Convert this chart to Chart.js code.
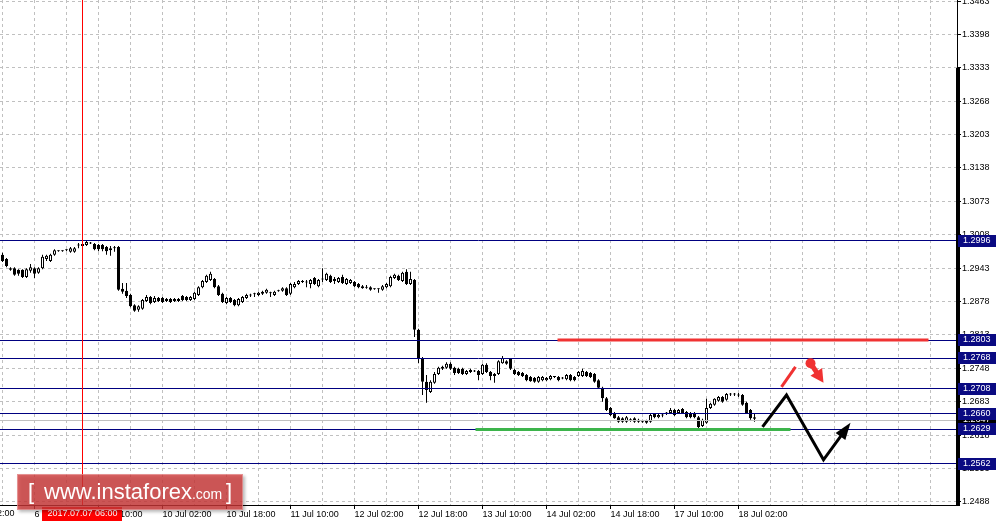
<!DOCTYPE html>
<html lang="en">
<head>
<meta charset="UTF-8">
<title>GBPUSD H1</title>
<script src="https://cdn.jsdelivr.net/npm/chart.js@4.4.0/dist/chart.umd.min.js"></script>
<style>
  html, body { margin: 0; padding: 0; background: #fff; }
  #wrap { width: 996px; height: 525px; }
</style>
</head>
<body>
<div id="wrap"><canvas id="chart" width="996" height="525"></canvas></div>
<script>
  // H1 candles, bar 0 = 6 Jul 10:00
  const opens = [
    1.2969, 1.2961, 1.2943, 1.2943, 1.2940, 1.2940, 1.2926, 1.2938, 1.2943, 1.2934,
    1.2943, 1.2961, 1.2957, 1.2969, 1.2976, 1.2976, 1.2978, 1.2975, 1.2975, 1.2988,
    1.2986, 1.2988, 1.2992, 1.2990, 1.2988, 1.2988, 1.2984, 1.2982, 1.2982, 1.2984,
    1.2903, 1.2899, 1.2891, 1.2871, 1.2862, 1.2864, 1.2879, 1.2887, 1.2877, 1.2885,
    1.2885, 1.2883, 1.2883, 1.2883, 1.2879, 1.2889, 1.2887, 1.2881, 1.2883, 1.2891,
    1.2906, 1.2916, 1.2920, 1.2922, 1.2908, 1.2893, 1.2875, 1.2885, 1.2881, 1.2871,
    1.2877, 1.2885, 1.2891, 1.2893, 1.2891, 1.2893, 1.2895, 1.2895, 1.2891, 1.2899,
    1.2899, 1.2904, 1.2893, 1.2906, 1.2912, 1.2916, 1.2916, 1.2912, 1.2924, 1.2908,
    1.2922, 1.2920, 1.2928, 1.2922, 1.2916, 1.2926, 1.2912, 1.2914, 1.2916, 1.2912,
    1.2908, 1.2906, 1.2906, 1.2903, 1.2903, 1.2901, 1.2906, 1.2908, 1.2924, 1.2928,
    1.2918, 1.2936, 1.2912, 1.2920, 1.2823, 1.2768, 1.2722, 1.2702, 1.2720, 1.2737,
    1.2751, 1.2749, 1.2757, 1.2749, 1.2747, 1.2747, 1.2737, 1.2741, 1.2743, 1.2743,
    1.2737, 1.2755, 1.2741, 1.2733, 1.2737, 1.2758, 1.2762, 1.2766, 1.2745, 1.2741,
    1.2739, 1.2735, 1.2731, 1.2729, 1.2722, 1.2725, 1.2725, 1.2727, 1.2731, 1.2731,
    1.2729, 1.2727, 1.2735, 1.2731, 1.2733, 1.2733, 1.2741, 1.2739, 1.2737, 1.2725,
    1.2710, 1.2690, 1.2671, 1.2661, 1.2653, 1.2651, 1.2644, 1.2648, 1.2651, 1.2648,
    1.2644, 1.2646, 1.2644, 1.2659, 1.2653, 1.2657, 1.2661, 1.2661, 1.2667, 1.2661,
    1.2669, 1.2663, 1.2661, 1.2661, 1.2653, 1.2636, 1.2642, 1.2671, 1.2677, 1.2685,
    1.2692, 1.2687, 1.2698, 1.2698, 1.2696, 1.2696, 1.2681, 1.2667, 1.2653
  ];
  const highs = [
    1.2973, 1.2963, 1.2945, 1.2945, 1.2941, 1.2941, 1.2943, 1.2951, 1.2945, 1.2945,
    1.2969, 1.2969, 1.2971, 1.2980, 1.2978, 1.2978, 1.2980, 1.2984, 1.2984, 1.2992,
    1.2992, 1.2996, 1.2994, 1.2992, 1.2990, 1.2990, 1.2986, 1.2986, 1.2986, 1.2986,
    1.2914, 1.2914, 1.2893, 1.2873, 1.2871, 1.2883, 1.2891, 1.2889, 1.2889, 1.2887,
    1.2887, 1.2885, 1.2885, 1.2885, 1.2885, 1.2891, 1.2889, 1.2889, 1.2897, 1.2908,
    1.2920, 1.2930, 1.2936, 1.2924, 1.2910, 1.2895, 1.2887, 1.2887, 1.2883, 1.2885,
    1.2889, 1.2893, 1.2893, 1.2895, 1.2897, 1.2899, 1.2903, 1.2897, 1.2899, 1.2901,
    1.2906, 1.2906, 1.2914, 1.2916, 1.2920, 1.2920, 1.2920, 1.2922, 1.2926, 1.2922,
    1.2943, 1.2934, 1.2930, 1.2926, 1.2926, 1.2930, 1.2924, 1.2922, 1.2918, 1.2914,
    1.2910, 1.2910, 1.2908, 1.2904, 1.2904, 1.2910, 1.2914, 1.2928, 1.2932, 1.2930,
    1.2936, 1.2941, 1.2936, 1.2922, 1.2825, 1.2770, 1.2735, 1.2725, 1.2741, 1.2751,
    1.2753, 1.2760, 1.2760, 1.2751, 1.2749, 1.2749, 1.2745, 1.2747, 1.2745, 1.2745,
    1.2757, 1.2758, 1.2743, 1.2739, 1.2764, 1.2772, 1.2764, 1.2768, 1.2747, 1.2743,
    1.2741, 1.2737, 1.2733, 1.2731, 1.2733, 1.2733, 1.2731, 1.2735, 1.2733, 1.2733,
    1.2731, 1.2737, 1.2737, 1.2733, 1.2743, 1.2747, 1.2743, 1.2741, 1.2739, 1.2727,
    1.2712, 1.2692, 1.2673, 1.2663, 1.2655, 1.2653, 1.2655, 1.2651, 1.2653, 1.2650,
    1.2648, 1.2648, 1.2659, 1.2661, 1.2659, 1.2659, 1.2663, 1.2671, 1.2669, 1.2669,
    1.2671, 1.2665, 1.2663, 1.2663, 1.2655, 1.2650, 1.2689, 1.2681, 1.2690, 1.2694,
    1.2694, 1.2700, 1.2700, 1.2700, 1.2700, 1.2698, 1.2683, 1.2669, 1.2659
  ];
  const lows = [
    1.2955, 1.2945, 1.2938, 1.2928, 1.2928, 1.2924, 1.2924, 1.2934, 1.2924, 1.2932,
    1.2941, 1.2957, 1.2955, 1.2967, 1.2975, 1.2975, 1.2976, 1.2973, 1.2973, 1.2982,
    1.2984, 1.2986, 1.2990, 1.2978, 1.2976, 1.2976, 1.2969, 1.2967, 1.2975, 1.2899,
    1.2893, 1.2885, 1.2867, 1.2858, 1.2858, 1.2862, 1.2877, 1.2873, 1.2875, 1.2877,
    1.2875, 1.2877, 1.2875, 1.2877, 1.2877, 1.2879, 1.2879, 1.2879, 1.2881, 1.2889,
    1.2904, 1.2914, 1.2918, 1.2904, 1.2889, 1.2875, 1.2873, 1.2875, 1.2869, 1.2869,
    1.2875, 1.2883, 1.2887, 1.2887, 1.2889, 1.2891, 1.2893, 1.2887, 1.2889, 1.2897,
    1.2897, 1.2889, 1.2891, 1.2904, 1.2910, 1.2914, 1.2906, 1.2904, 1.2910, 1.2906,
    1.2916, 1.2918, 1.2914, 1.2912, 1.2914, 1.2912, 1.2910, 1.2912, 1.2906, 1.2904,
    1.2903, 1.2903, 1.2899, 1.2901, 1.2895, 1.2899, 1.2904, 1.2906, 1.2922, 1.2918,
    1.2916, 1.2910, 1.2910, 1.2809, 1.2758, 1.2696, 1.2681, 1.2700, 1.2718, 1.2735,
    1.2745, 1.2747, 1.2745, 1.2735, 1.2737, 1.2735, 1.2735, 1.2739, 1.2741, 1.2725,
    1.2735, 1.2739, 1.2725, 1.2720, 1.2735, 1.2757, 1.2755, 1.2745, 1.2735, 1.2733,
    1.2731, 1.2723, 1.2722, 1.2720, 1.2720, 1.2723, 1.2723, 1.2725, 1.2729, 1.2723,
    1.2727, 1.2725, 1.2723, 1.2723, 1.2731, 1.2731, 1.2731, 1.2729, 1.2720, 1.2708,
    1.2683, 1.2665, 1.2655, 1.2650, 1.2642, 1.2642, 1.2642, 1.2644, 1.2642, 1.2642,
    1.2642, 1.2640, 1.2642, 1.2651, 1.2651, 1.2653, 1.2657, 1.2659, 1.2655, 1.2659,
    1.2659, 1.2651, 1.2651, 1.2651, 1.2630, 1.2634, 1.2640, 1.2669, 1.2675, 1.2683,
    1.2681, 1.2685, 1.2694, 1.2694, 1.2692, 1.2675, 1.2659, 1.2648, 1.2644
  ];
  const closes = [
    1.2957, 1.2947, 1.2940, 1.2930, 1.2932, 1.2926, 1.2941, 1.2945, 1.2932, 1.2943,
    1.2965, 1.2967, 1.2969, 1.2978, 1.2976, 1.2977, 1.2979, 1.2982, 1.2982, 1.2987,
    1.2990, 1.2994, 1.2991, 1.2980, 1.2980, 1.2980, 1.2976, 1.2978, 1.2983, 1.2901,
    1.2897, 1.2889, 1.2869, 1.2860, 1.2869, 1.2881, 1.2887, 1.2875, 1.2885, 1.2879,
    1.2877, 1.2879, 1.2877, 1.2879, 1.2883, 1.2881, 1.2881, 1.2887, 1.2895, 1.2906,
    1.2918, 1.2928, 1.2932, 1.2906, 1.2891, 1.2877, 1.2885, 1.2877, 1.2871, 1.2883,
    1.2887, 1.2891, 1.2890, 1.2892, 1.2895, 1.2897, 1.2901, 1.2894, 1.2897, 1.2898,
    1.2904, 1.2891, 1.2912, 1.2912, 1.2918, 1.2917, 1.2915, 1.2920, 1.2912, 1.2920,
    1.2921, 1.2932, 1.2916, 1.2918, 1.2924, 1.2914, 1.2922, 1.2920, 1.2908, 1.2906,
    1.2904, 1.2905, 1.2901, 1.2902, 1.2902, 1.2908, 1.2912, 1.2926, 1.2930, 1.2920,
    1.2934, 1.2912, 1.2922, 1.2823, 1.2768, 1.2722, 1.2706, 1.2722, 1.2737, 1.2749,
    1.2747, 1.2757, 1.2747, 1.2739, 1.2739, 1.2737, 1.2743, 1.2745, 1.2742, 1.2735,
    1.2755, 1.2741, 1.2733, 1.2737, 1.2762, 1.2768, 1.2757, 1.2747, 1.2737, 1.2735,
    1.2733, 1.2725, 1.2723, 1.2722, 1.2731, 1.2731, 1.2729, 1.2733, 1.2732, 1.2725,
    1.2728, 1.2735, 1.2725, 1.2725, 1.2741, 1.2743, 1.2733, 1.2731, 1.2722, 1.2710,
    1.2690, 1.2667, 1.2657, 1.2651, 1.2644, 1.2644, 1.2653, 1.2647, 1.2644, 1.2644,
    1.2643, 1.2642, 1.2657, 1.2653, 1.2657, 1.2656, 1.2660, 1.2667, 1.2657, 1.2667,
    1.2661, 1.2653, 1.2653, 1.2653, 1.2634, 1.2648, 1.2671, 1.2679, 1.2689, 1.2692,
    1.2683, 1.2698, 1.2697, 1.2697, 1.2695, 1.2677, 1.2661, 1.2651, 1.2650
  ];

  // time axis labels (bar index -> text)
  const labelBars = [-8, 8, 24, 40, 56, 72, 88, 104, 120, 136, 152, 168, 184];
  const labelTexts = ['6 Jul 02:00', '6 Jul 18:00', '7 Jul 10:00', '10 Jul 02:00', '10 Jul 18:00',
    '11 Jul 10:00', '12 Jul 02:00', '12 Jul 18:00', '13 Jul 10:00', '14 Jul 02:00',
    '14 Jul 18:00', '17 Jul 10:00', '18 Jul 02:00'];
  const priceTicks = [1.2488, 1.2553, 1.2618, 1.2683, 1.2748, 1.2813, 1.2878, 1.2943,
    1.3008, 1.3073, 1.3138, 1.3203, 1.3268, 1.3333, 1.3398, 1.3463];

  // horizontal levels and current price
  const levels = [1.2996, 1.2803, 1.2768, 1.2708, 1.2660, 1.2629, 1.2562];
  const bidPrice = 1.2647;
  const markerBar = 20;
  const markerText = '2017.07.07 06:00';

  // hand drawn marks (bar index, price)
  const redLevelBars = [138.75, 231.5];
  const redLevelPrice = 1.2803;
  const greenLevelBars = [118.25, 197];
  const greenLevelPrice = 1.2629;
  const zigzagBars = [190, 196, 205.25, 212];
  const zigzagPrices = [1.2634, 1.2696, 1.2570, 1.2642];
  const redUpBars = [194.75, 198.25];
  const redUpPrices = [1.2712, 1.2751];
  const redDownBars = [202, 205.25];
  const redDownPrices = [1.2758, 1.2720];

  const FONT = '"Liberation Sans", Arial, sans-serif';
  const gridBars = [];
  for (let b = 0; b <= 232; b += 8) gridBars.push(b);

  const bodies = opens.map((o, i) => ({ x: i, y: [o, closes[i]] }));
  const wicks = highs.map((h, i) => ({ x: i, y: [lows[i], h] }));

  const crisp = v => Math.floor(v) + 0.5;

  function arrowHead(ctx, x0, y0, x1, y1, len, half) {
    const d = Math.hypot(x1 - x0, y1 - y0);
    const ux = (x1 - x0) / d, uy = (y1 - y0) / d;
    const bx = x1 - ux * len, by = y1 - uy * len;
    ctx.beginPath();
    ctx.moveTo(x1, y1);
    ctx.lineTo(bx - uy * half, by + ux * half);
    ctx.lineTo(bx + uy * half, by - ux * half);
    ctx.closePath();
    ctx.fill();
  }

  const overlay = {
    id: 'overlay',
    afterDatasetsDraw(chart) {
      const { ctx, chartArea: a, scales: { x, y } } = chart;
      ctx.save();
      ctx.lineWidth = 1;
      // bid line
      ctx.strokeStyle = '#c0c0c0';
      let yy = crisp(y.getPixelForValue(bidPrice));
      ctx.beginPath(); ctx.moveTo(a.left, yy); ctx.lineTo(a.right, yy); ctx.stroke();
      // levels
      ctx.strokeStyle = '#000080';
      levels.forEach(v => {
        const p = crisp(y.getPixelForValue(v));
        ctx.beginPath(); ctx.moveTo(a.left, p); ctx.lineTo(a.right, p); ctx.stroke();
      });
      // time marker
      ctx.strokeStyle = '#ff0000';
      const xm = crisp(x.getPixelForValue(markerBar));
      ctx.beginPath(); ctx.moveTo(xm, a.top); ctx.lineTo(xm, a.bottom); ctx.stroke();

      // red resistance segment
      ctx.lineWidth = 3;
      ctx.strokeStyle = '#f03232';
      yy = y.getPixelForValue(redLevelPrice);
      ctx.beginPath();
      ctx.moveTo(x.getPixelForValue(redLevelBars[0]), yy);
      ctx.lineTo(x.getPixelForValue(redLevelBars[1]), yy);
      ctx.stroke();
      // green support segment
      ctx.strokeStyle = '#3cb44b';
      yy = y.getPixelForValue(greenLevelPrice);
      ctx.beginPath();
      ctx.moveTo(x.getPixelForValue(greenLevelBars[0]), yy);
      ctx.lineTo(x.getPixelForValue(greenLevelBars[1]), yy);
      ctx.stroke();

      // black zigzag with arrow
      const zx = zigzagBars.map(b => x.getPixelForValue(b));
      const zy = zigzagPrices.map(p => y.getPixelForValue(p));
      ctx.strokeStyle = '#000';
      ctx.fillStyle = '#000';
      ctx.lineWidth = 3;
      ctx.lineJoin = 'miter';
      ctx.beginPath();
      ctx.moveTo(zx[0], zy[0]);
      for (let i = 1; i < zx.length - 1; i++) ctx.lineTo(zx[i], zy[i]);
      const n = zx.length - 1;
      // stop the shaft short of the arrow tip
      const sd = Math.hypot(zx[n] - zx[n - 1], zy[n] - zy[n - 1]);
      ctx.lineTo(zx[n] - (zx[n] - zx[n - 1]) / sd * 10, zy[n] - (zy[n] - zy[n - 1]) / sd * 10);
      ctx.stroke();
      arrowHead(ctx, zx[n - 1], zy[n - 1], zx[n], zy[n], 17, 6);

      // red small up stroke
      ctx.strokeStyle = '#f03232';
      ctx.fillStyle = '#f03232';
      ctx.lineWidth = 3;
      ctx.beginPath();
      ctx.moveTo(x.getPixelForValue(redUpBars[0]), y.getPixelForValue(redUpPrices[0]));
      ctx.lineTo(x.getPixelForValue(redUpBars[1]), y.getPixelForValue(redUpPrices[1]));
      ctx.stroke();
      // red down arrow with ball
      const r0x = x.getPixelForValue(redDownBars[0]), r0y = y.getPixelForValue(redDownPrices[0]);
      const r1x = x.getPixelForValue(redDownBars[1]), r1y = y.getPixelForValue(redDownPrices[1]);
      ctx.beginPath(); ctx.arc(r0x, r0y, 5, 0, Math.PI * 2); ctx.fill();
      ctx.lineWidth = 5;
      ctx.beginPath(); ctx.moveTo(r0x, r0y);
      ctx.lineTo(r0x + (r1x - r0x) * 0.5, r0y + (r1y - r0y) * 0.5);
      ctx.stroke();
      arrowHead(ctx, r0x, r0y, r1x, r1y, 13, 7);
      ctx.restore();
    },
    afterDraw(chart) {
      const { ctx, chartArea: a, scales: { x, y } } = chart;
      ctx.save();
      // thick part of price scale
      ctx.fillStyle = '#000';
      const yt = Math.round(y.getPixelForValue(1.3333));
      ctx.fillRect(a.right - 1, yt, 4, a.bottom - yt + 1);

      ctx.font = '9px ' + FONT;
      ctx.textBaseline = 'middle';
      ctx.textAlign = 'left';
      // bid label
      let p = Math.round(y.getPixelForValue(bidPrice));
      ctx.fillStyle = '#000';
      ctx.fillRect(a.right + 1, p - 6, 40, 12);
      ctx.fillStyle = '#fff';
      ctx.fillText(bidPrice.toFixed(4), a.right + 6, p);
      // level labels
      levels.forEach(v => {
        const q = Math.round(y.getPixelForValue(v));
        ctx.fillStyle = '#0a0a82';
        ctx.fillRect(a.right + 1, q - 6, 40, 12);
        ctx.fillStyle = '#fff';
        ctx.fillText(v.toFixed(4), a.right + 6, q);
      });

      // partial first time label (left of the chart)
      ctx.fillStyle = '#000';
      ctx.textBaseline = 'top';
      ctx.fillText(labelTexts[0], x.getPixelForValue(labelBars[0]), a.bottom + 4);

      // time marker label
      const xm = Math.floor(x.getPixelForValue(markerBar));
      ctx.fillStyle = '#ff0000';
      ctx.fillRect(xm - 40, a.bottom + 2, 80, 14);
      ctx.fillStyle = '#fff';
      ctx.textAlign = 'center';
      ctx.fillText(markerText, xm + 0.5, a.bottom + 4);

      // watermark
      ctx.shadowColor = 'rgba(0,0,0,0.35)';
      ctx.shadowOffsetX = 2; ctx.shadowOffsetY = 2; ctx.shadowBlur = 3;
      ctx.fillStyle = 'rgba(208,56,56,0.78)';
      ctx.fillRect(17, 474, 226, 36);
      ctx.shadowColor = 'transparent';
      ctx.strokeStyle = 'rgba(255,255,255,0.3)';
      ctx.lineWidth = 1;
      ctx.strokeRect(17.5, 474.5, 225, 35);
      ctx.fillStyle = '#fff';
      ctx.textAlign = 'left';
      ctx.textBaseline = 'alphabetic';
      ctx.font = '22px ' + FONT;
      ctx.fillText('[', 28, 499);
      ctx.fillText('www.instaforex', 44, 499);
      const w = ctx.measureText('www.instaforex').width;
      ctx.font = '14px ' + FONT;
      ctx.fillText('.com', 44 + w, 499);
      ctx.font = '22px ' + FONT;
      ctx.fillText(']', 226, 499);
      ctx.restore();
    }
  };

  Chart.defaults.font.family = FONT;
  Chart.defaults.font.size = 9;
  Chart.defaults.color = '#000';

  new Chart(document.getElementById('chart'), {
    type: 'bar',
    data: {
      datasets: [
        {
          label: 'body',
          data: bodies,
          order: 0,
          grouped: false,
          barThickness: 3,
          minBarLength: 1,
          inflateAmount: 0,
          borderSkipped: false,
          borderWidth: 1,
          borderColor: '#000',
          backgroundColor: c => closes[c.dataIndex] >= opens[c.dataIndex] ? '#fff' : '#000'
        },
        {
          label: 'wick',
          data: wicks,
          order: 1,
          grouped: false,
          barThickness: 1,
          minBarLength: 1,
          inflateAmount: 0,
          borderWidth: 0,
          backgroundColor: '#000'
        }
      ]
    },
    options: {
      responsive: false,
      animation: false,
      events: [],
      layout: { padding: 0 },
      plugins: { legend: { display: false }, tooltip: { enabled: false } },
      scales: {
        x: {
          type: 'linear',
          offset: false,
          min: -0.625,
          max: 238.625,
          afterBuildTicks: s => { s.ticks = gridBars.map(v => ({ value: v })); },
          afterFit: s => { s.height = 20; s.paddingLeft = 0; s.paddingRight = 0; },
          grid: {
            offset: false,
            color: '#c0c0c0',
            tickLength: 4,
            tickColor: c => labelBars.includes(c.tick && c.tick.value) ? '#000' : 'rgba(0,0,0,0)'
          },
          border: { color: '#000', dash: [3, 3] },
          ticks: {
            autoSkip: false,
            maxRotation: 0,
            align: 'start',
            padding: 0,
            callback: v => {
              const k = labelBars.indexOf(v);
              return k >= 0 ? labelTexts[k] : '';
            }
          }
        },
        y: {
          position: 'right',
          min: 1.2482,
          max: 1.3465,
          afterBuildTicks: s => { s.ticks = priceTicks.map(v => ({ value: v })); },
          afterFit: s => { s.width = 39; s.paddingTop = 0; s.paddingBottom = 0; },
          grid: { color: '#c0c0c0', tickLength: 4, tickColor: '#000' },
          border: { color: '#000', dash: [3, 3] },
          ticks: { autoSkip: false, padding: 1, callback: v => v.toFixed(4) }
        }
      }
    },
    plugins: [overlay]
  });
</script>
</body>
</html>
